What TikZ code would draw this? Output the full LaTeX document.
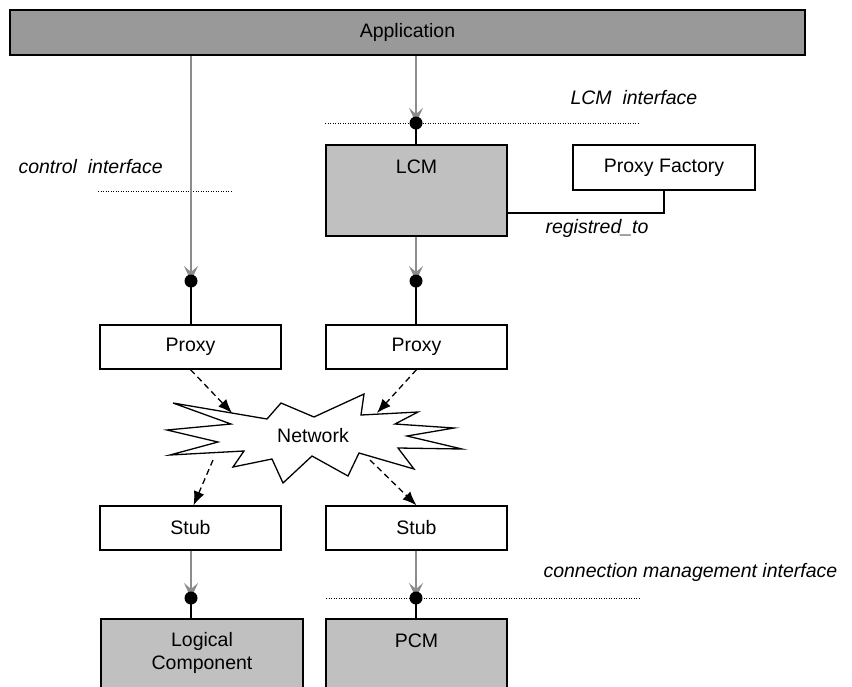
\documentclass[tikz,border=0pt]{standalone}
\usepackage{fontspec}
\setmainfont{Liberation Sans}
\usetikzlibrary{arrows.meta,calc}
\definecolor{appgray}{HTML}{999999}
\definecolor{boxgray}{HTML}{C0C0C0}
\definecolor{arrgray}{HTML}{8C8C8C}
\begin{document}
\begin{tikzpicture}[x=1pt,y=-1pt,
  font=\fontsize{19.5}{23}\selectfont,
  box/.style={draw, line width=1.3pt, fill=white, minimum width=181pt, minimum height=44pt, inner sep=0pt},
  graybox/.style={box, fill=boxgray},
  garrow/.style={draw=arrgray, line width=1.6pt, -{Stealth[length=15pt,width=14pt,inset=6pt,fill=arrgray]}},
  ball/.style={circle, fill=black, minimum size=13pt, inner sep=0pt},
  dline/.style={dash pattern=on 1pt off 1.5pt, line width=0.8pt},
  darrow/.style={dash pattern=on 6pt off 4pt, line width=1.3pt, -{Latex[length=14pt,width=11pt]}},
  lbl/.style={font=\fontsize{19.5}{23}\selectfont\itshape},
  conn/.style={line width=1.3pt}
]
\path[use as bounding box] (0,0) rectangle (852,686);
\clip (0,0) rectangle (852,686);

% boxes
\node[box, fill=appgray, minimum width=795pt, minimum height=45pt, line width=1.8pt] (app) at (407.5,32.5) {Application};
\node[graybox, minimum height=91pt] (lcm) at (416.5,190.5) {};
\node (lcmt) at (416.5,167) {LCM};
\node[box, minimum width=182pt, minimum height=45pt] (pf) at (664,167.5) {Proxy Factory};
\node[box] (p1) at (190.5,347) {Proxy};
\node[box] (p2) at (416.5,347) {Proxy};
\node[box] (s1) at (190.5,528) {Stub};
\node[box] (s2) at (416.5,528) {Stub};
\node[graybox, minimum width=202pt, minimum height=90pt] (lc) at (202,664) {};
\node[align=center] (lct) at (202,653) {Logical\\Component};
\node[graybox, minimum height=90pt] (pcm) at (416.5,664) {};
\node (pcmt) at (416.5,641) {PCM};

% labels
\node[lbl, anchor=west] (ci) at (15,167) {control~~interface};
\node[lbl, anchor=west] (li) at (567,98) {LCM~~interface};
\node[lbl, anchor=west] (cmi) at (540,572) {connection management interface};
\node[lbl] (reg) at (597,228) {registred\_to};

% dotted interface lines
\draw[dline] (325,123) -- (638,123);
\draw[dline] (98,191) -- (233,191);
\draw[dline] (326,598) -- (640,598);

% registred_to connector
\draw[conn] ($(lcm.east)+(0,22.5)$) -| (pf.south);

% ball coordinates
\coordinate (c1) at (191,281);
\coordinate (c2) at (416,123);
\coordinate (c3) at (416,281);
\coordinate (c4) at (191,598);
\coordinate (c5) at (416,598);

% gray arrows
\draw[garrow] (app.south -| c1) -- (c1);
\draw[garrow] (app.south -| c2) -- (c2);
\draw[garrow] (lcm.south -| c3) -- (c3);
\draw[garrow] (s1.south -| c4) -- (c4);
\draw[garrow] (s2.south -| c5) -- (c5);

% black stems
\draw[conn] (c1) -- (p1.north -| c1);
\draw[conn] (c2) -- (lcm.north -| c2);
\draw[conn] (c3) -- (p2.north -| c3);
\draw[conn] (c4) -- (lc.north -| c4);
\draw[conn] (c5) -- (pcm.north -| c5);

% balls
\node[ball] (b1) at (c1) {};
\node[ball] (b2) at (c2) {};
\node[ball] (b3) at (c3) {};
\node[ball] (b4) at (c4) {};
\node[ball] (b5) at (c5) {};

% network
\draw[line width=1.3pt, fill=white, line join=miter] (173,403) -- (231,424) -- (167,430) -- (218,442) -- (170,455) -- (244,451) -- (233,467) -- (272,459) -- (283,483) -- (312,456) -- (348,476) -- (359,453) -- (414,469) -- (398,448) -- (462,449) -- (407,436) -- (454,428) -- (395,424) -- (418,412) -- (361,415) -- (364,394) -- (314,417) -- (281,403) -- (267,419) -- cycle;
\node (net) at (313,436) {Network};
\coordinate (n1) at (232,413);
\coordinate (n2) at (377,413);
\coordinate (n3) at (213,460);
\coordinate (n4) at (370,460);

% dashed arrows
\draw[darrow] (p1.south) -- (n1);
\draw[darrow] (p2.south) -- (n2);
\draw[darrow] (n3) -- ([xshift=3pt]s1.north);
\draw[darrow] (n4) -- (s2.north);
\end{tikzpicture}
\end{document}
